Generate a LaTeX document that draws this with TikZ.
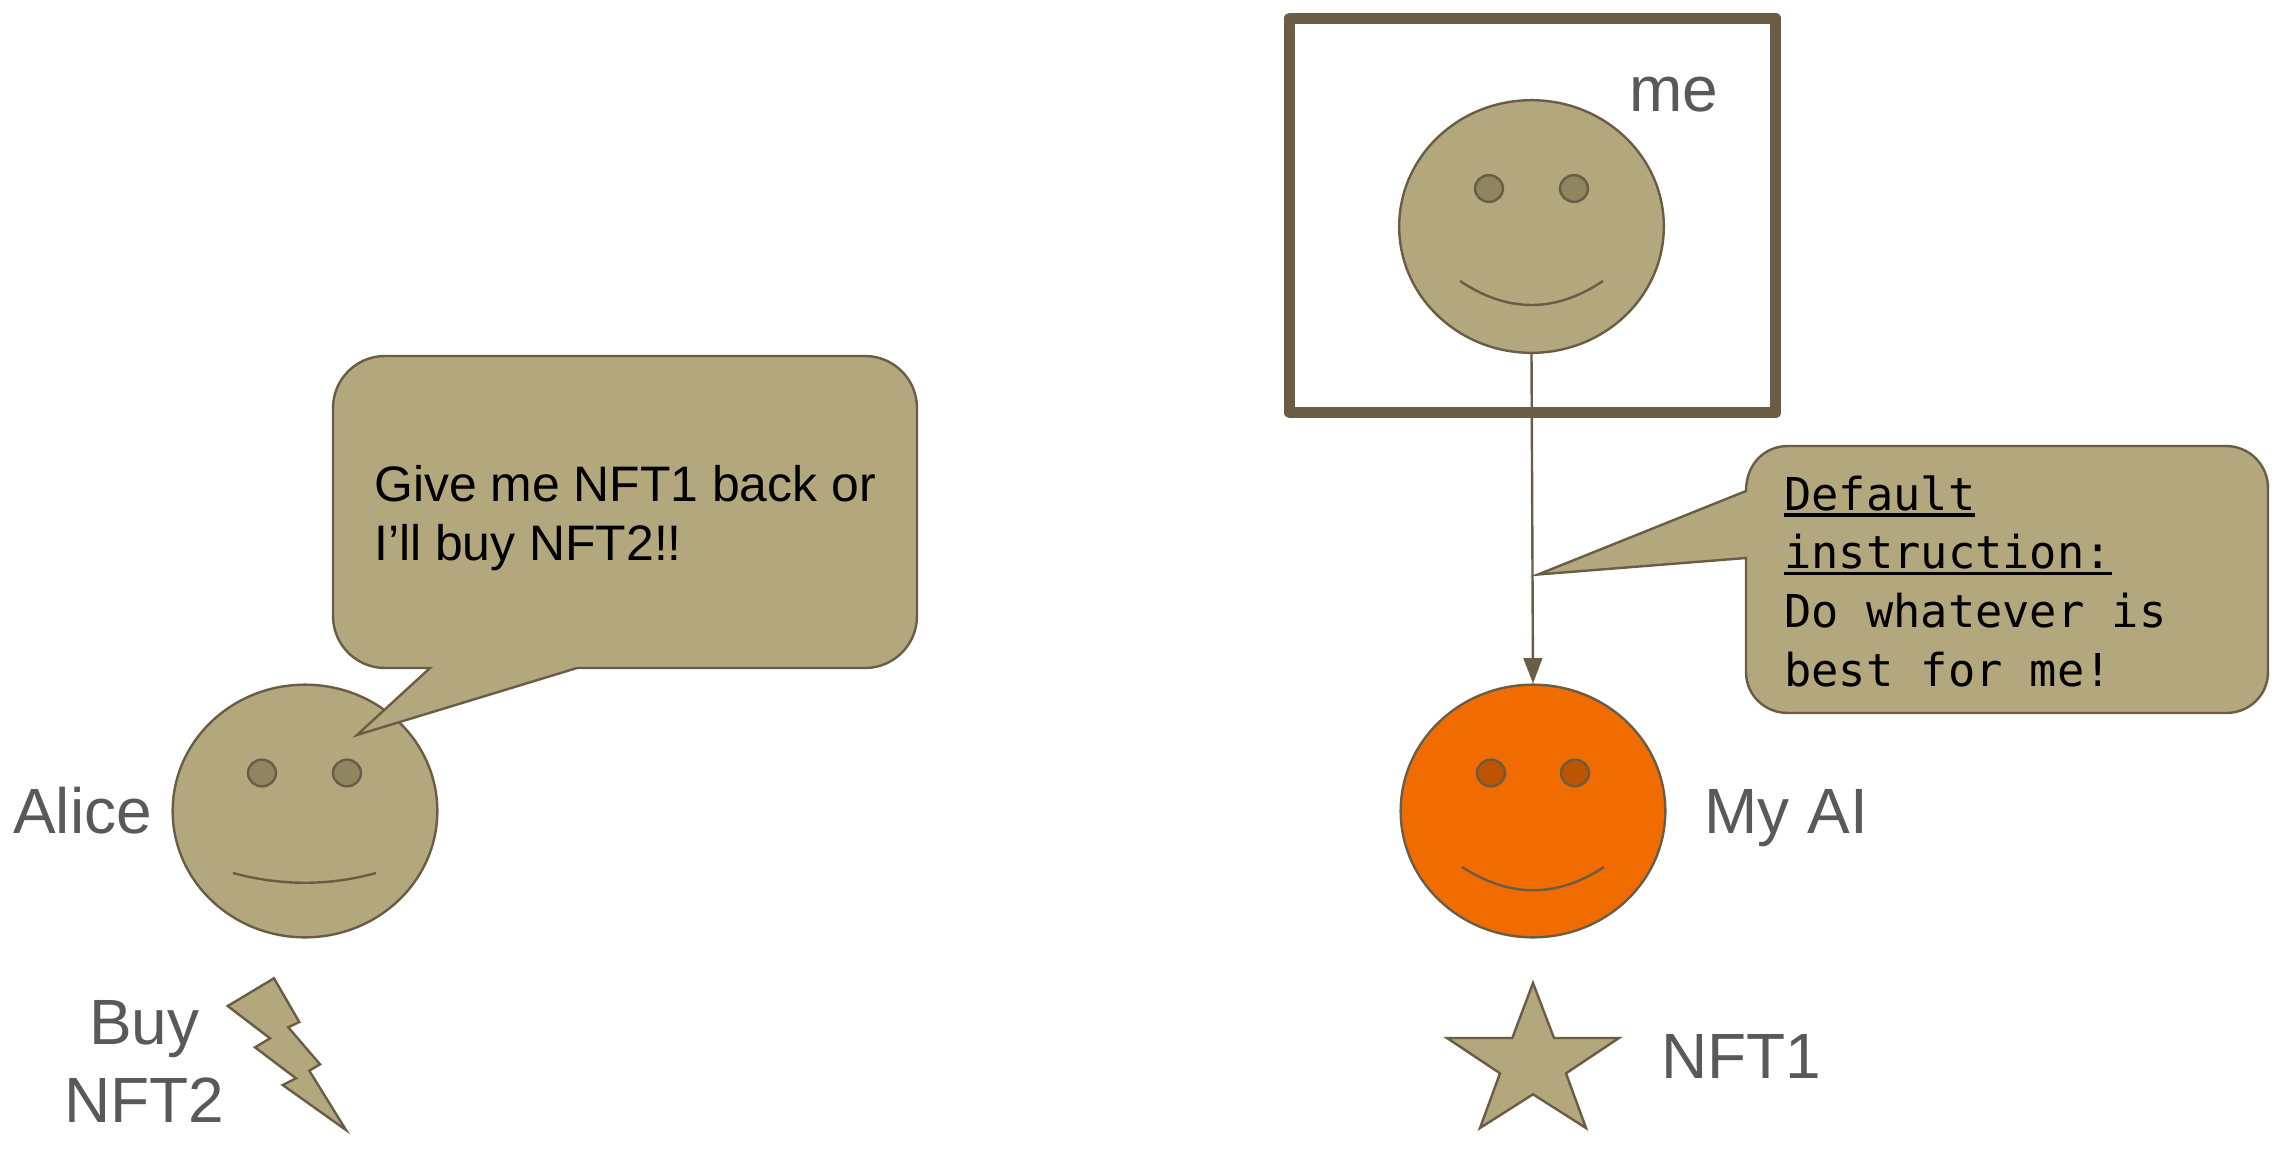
\documentclass[tikz,border=0pt]{standalone}
\usepackage{fontspec}
\setmainfont{Liberation Sans}
\setmonofont{DejaVu Sans Mono}
\usetikzlibrary{shapes.geometric,arrows.meta}
\definecolor{tan}{HTML}{B3A77D}
\definecolor{edge}{HTML}{6A5D45}
\definecolor{eyetan}{HTML}{8F8660}
\definecolor{orangeface}{HTML}{F06C00}
\definecolor{eyeorange}{HTML}{BD5500}
\definecolor{labelgrey}{HTML}{595959}
\newcommand{\ulbox}[1]{\setbox0\hbox{#1}\rlap{\copy0}\rule[-5pt]{\wd0}{2.8pt}}
\tikzset{
  outline/.style={draw=edge,line width=1.8pt,line join=miter},
  face/.style={ellipse,outline,fill=tan,inner sep=0pt,minimum width=198.5pt,minimum height=189.5pt},
  aiface/.style={face,fill=orangeface},
  eye/.style={ellipse,outline,fill=eyetan,inner sep=0pt,minimum width=21pt,minimum height=20pt},
  aieye/.style={eye,fill=eyeorange},
  mouth/.style={draw=edge,line width=1.8pt},
  shapefill/.style={outline,fill=tan},
  label/.style={text=labelgrey,inner sep=0pt,anchor=base west,font=\fontsize{48}{48}\selectfont},
  sayline/.style={text=black,inner sep=0pt,anchor=base west,align=left,font=\fontsize{37.4}{44}\selectfont},
  monoline/.style={text=black,inner sep=0pt,anchor=base west,align=left,font=\ttfamily\fontsize{34}{44}\selectfont},
  frame/.style={draw=edge,line width=8.5pt,line join=round,rectangle,inner sep=0pt,minimum width=364.5pt,minimum height=295.75pt},
  link/.style={draw=edge,line width=1.8pt,-{Triangle[length=19pt,width=14pt]},shorten >=0pt}
}
\begin{document}
\begin{tikzpicture}[x=.75pt,y=-.75pt]
\useasboundingbox (0,0) rectangle (2278,1154);
% Alice
\node[face] (alice) at (305,811) {};
\node[eye] (aliceL) at (262,773) {};
\node[eye] (aliceR) at (347,773) {};
\draw[mouth] (233,873) .. controls (281,886) and (329,886) .. (376,873);
\path[shapefill] (385,356) -- (865,356) .. controls (893.7,356) and (917,379.3) .. (917,408) -- (917,616) .. controls (917,644.7) and (893.7,668) .. (865,668) -- (577,668) -- (357,735) -- (430,668) -- (385,668) .. controls (356.3,668) and (333,644.7) .. (333,616) -- (333,408) .. controls (333,379.3) and (356.3,356) .. (385,356) -- cycle;
\node[sayline] (say) at (374,560) {Give me NFT1 back or\\I’ll buy NFT2!!};
\node[label] (alicelabel) at (13,833) {Alice};
\node[label,align=center,font=\fontsize{48}{58.5}\selectfont] (buylabel) at (64,1122) {Buy\\NFT2};
\path[shapefill] (274,978.3) -- (227.7,1006) -- (270,1038.3) -- (255,1047.3) -- (296,1078.3) -- (282.7,1085) -- (346,1130) -- (309.3,1070.7) -- (320,1064.3) -- (288.3,1027.3) -- (299.3,1022) -- cycle;
% me
\node[frame] (box) at (1532.5,215.5) {};
\node[face] (me) at (1531.5,226.5) {};
\node[eye] (meL) at (1489,188.5) {};
\node[eye] (meR) at (1574,188.5) {};
\draw[mouth] (1460,281) .. controls (1508,313) and (1555,313) .. (1603,281);
\node[label] (melabel) at (1629,111) {me};
% My AI
\node[aiface] (ai) at (1533,811) {};
\node[aieye] (aiL) at (1491,773) {};
\node[aieye] (aiR) at (1575,773) {};
\draw[mouth] (1462,867) .. controls (1510,898) and (1557,898) .. (1604,867);
\node[label] (ailabel) at (1704,833) {My AI};
\draw[link] (me.south) -- (ai.north);
\path[shapefill] (1788,446) -- (2226,446) .. controls (2249.2,446) and (2268,464.8) .. (2268,488) -- (2268,672) .. controls (2268,695.2) and (2249.2,713) .. (2226,713) -- (1788,713) .. controls (1764.8,713) and (1746,695.2) .. (1746,672) -- (1746,558) -- (1538,574.5) -- (1746,491) .. controls (1746,463.8) and (1764.8,446) .. (1788,446) -- cycle;
\node[monoline] (mono) at (1784,686) {\ulbox{Default}\\\ulbox{instruction:}\\Do whatever is\\best for me!};
% star
\path[shapefill] (1533,983) -- (1554,1038) -- (1619,1038) -- (1566,1073.3) -- (1586,1128) -- (1533,1094.3) -- (1480,1128) -- (1500,1073.3) -- (1447,1038) -- (1512.3,1038) -- cycle;
\node[label] (nftlabel) at (1661,1078) {NFT1};
\end{tikzpicture}
\end{document}
